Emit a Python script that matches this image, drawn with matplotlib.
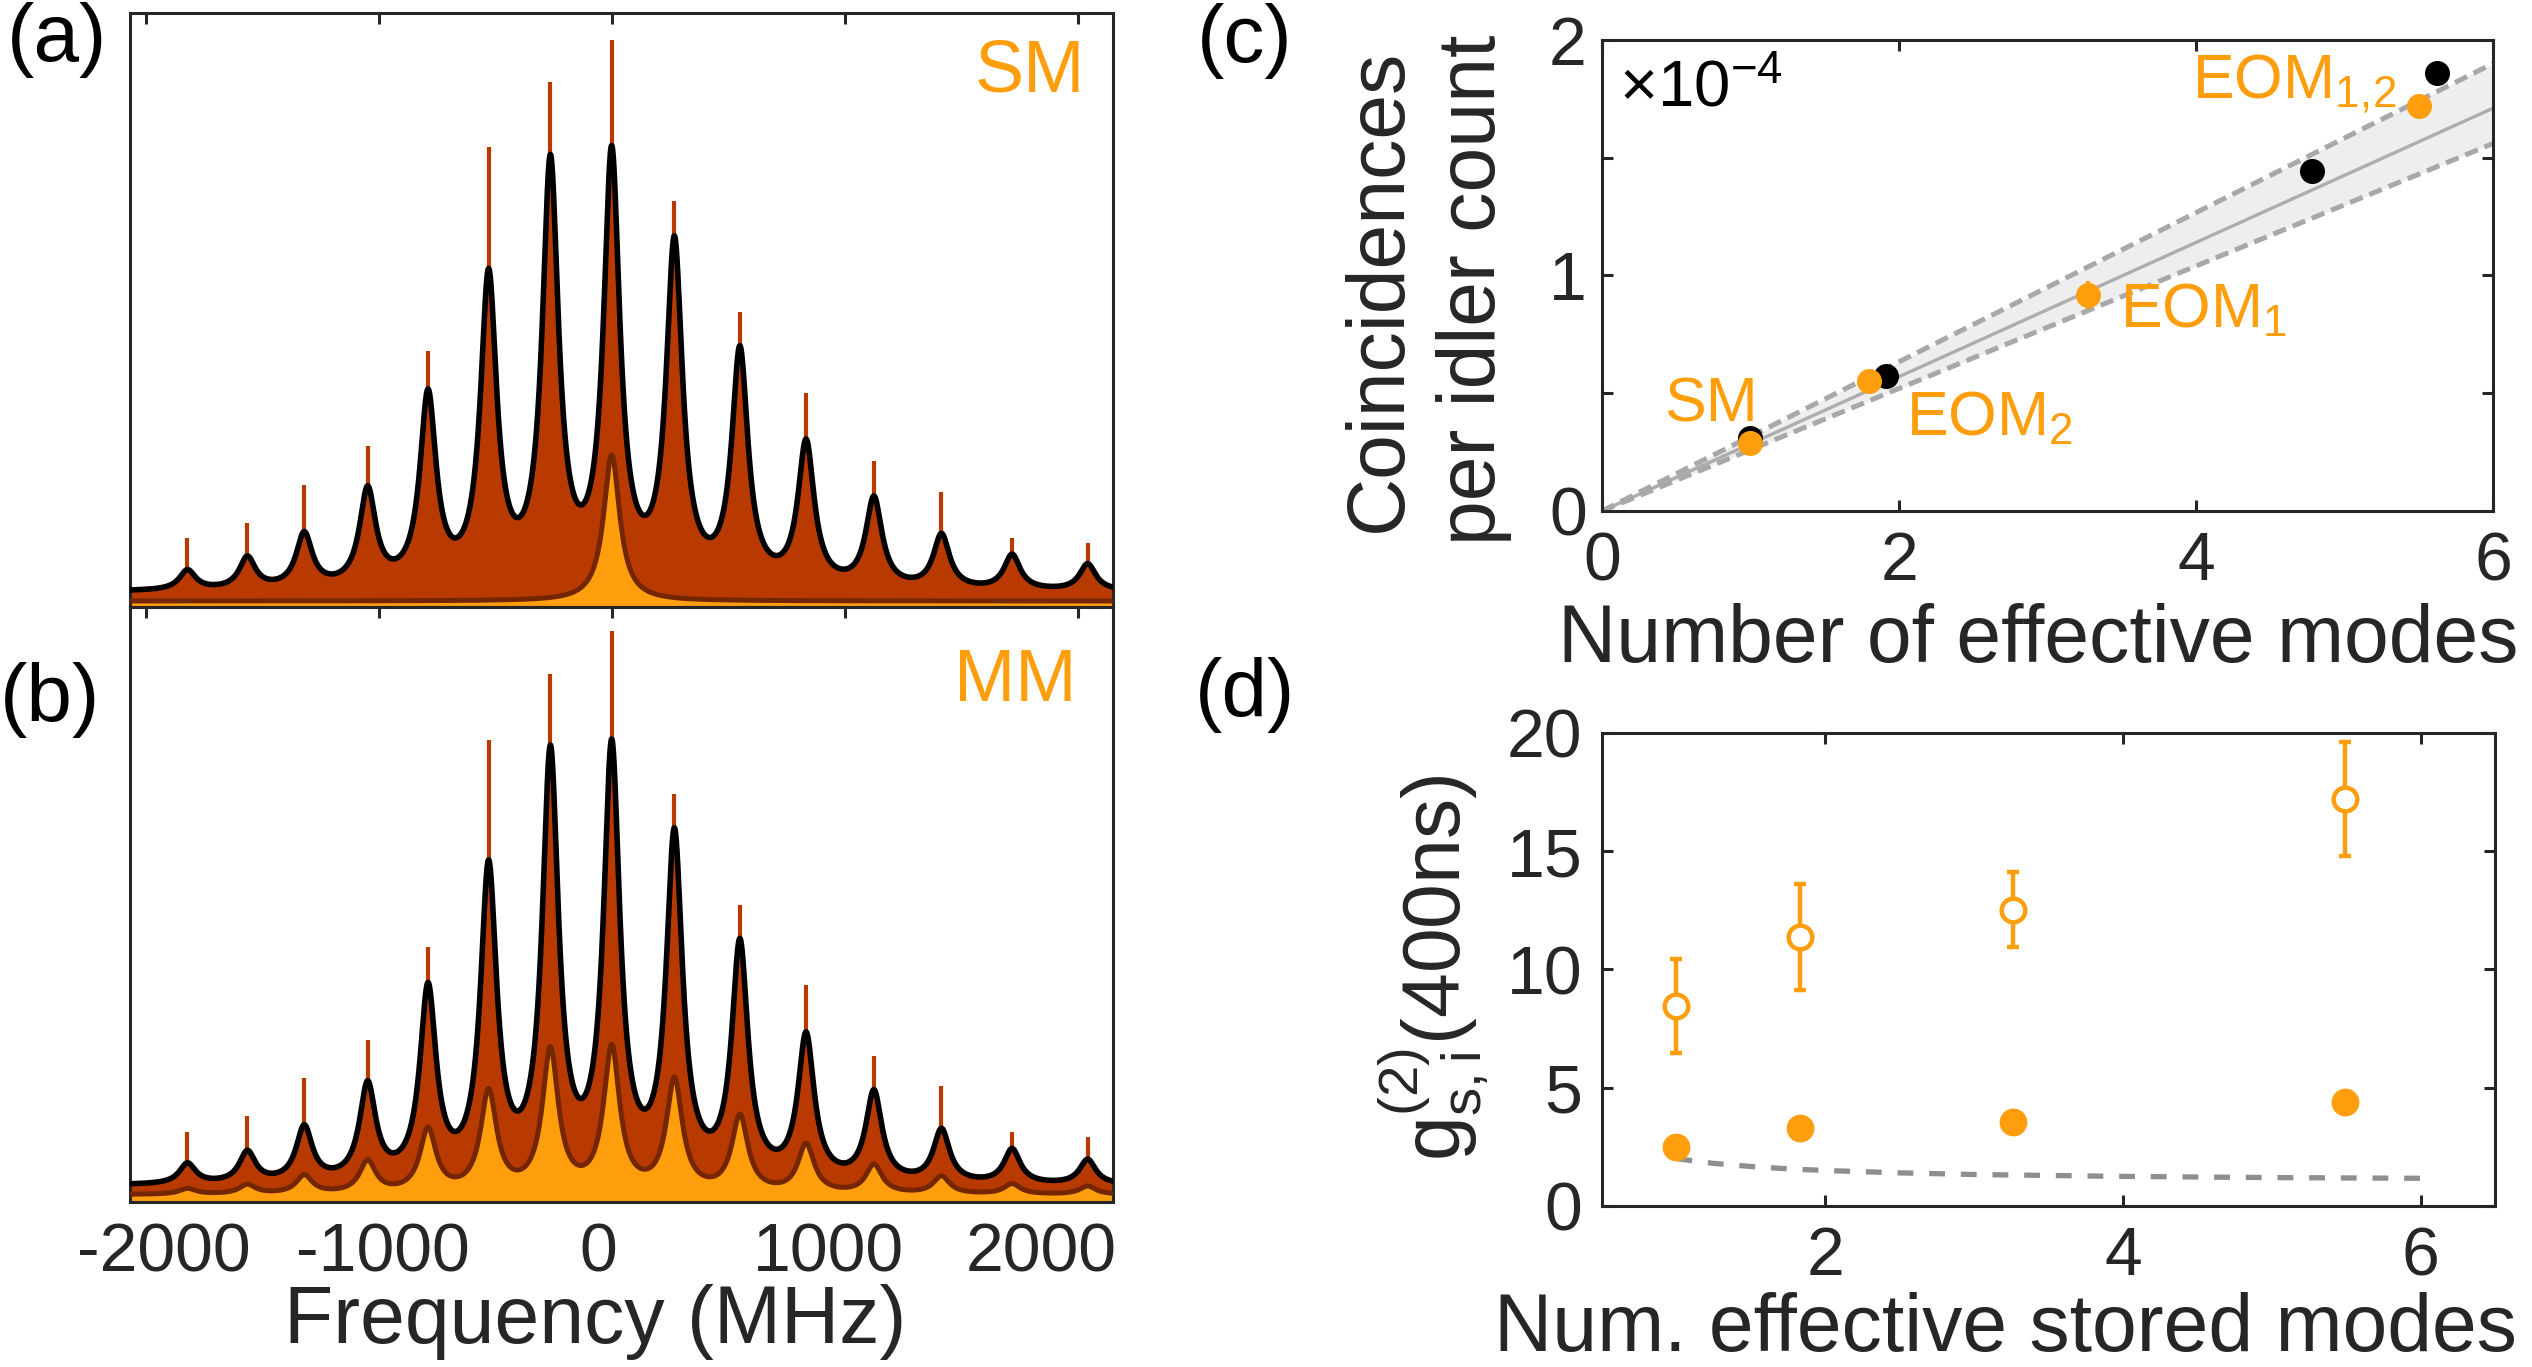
import numpy as np
import matplotlib
matplotlib.use('Agg')
import matplotlib.pyplot as plt

plt.rcParams['font.family'] = ['Liberation Sans', 'DejaVu Sans']
plt.rcParams['mathtext.fontset'] = 'custom'
plt.rcParams['mathtext.rm'] = 'Liberation Sans'
plt.rcParams['mathtext.it'] = 'Liberation Sans'
plt.rcParams['axes.linewidth'] = 2.2
plt.rcParams['axes.edgecolor'] = '#262626'

DARK = '#B83A00'
ORANGE = '#FF9E0D'
BROWN = '#742600'
INK = '#262626'

# ---- (a), (b) spectra: peak positions (MHz) and fit heights (arb., axis = 1) ----
peak_mhz = [-1820, -1563, -1319, -1047, -788, -528, -263, 0, 269, 550, 834, 1125, 1415, 1718, 2042]
fit_a_total = [0.063, 0.086, 0.127, 0.204, 0.367, 0.570, 0.762, 0.777, 0.625, 0.440, 0.283, 0.187, 0.124, 0.089, 0.073]
fit_b_total = [0.066, 0.087, 0.130, 0.204, 0.369, 0.575, 0.768, 0.778, 0.629, 0.443, 0.286, 0.189, 0.124, 0.090, 0.072]
fit_b_mm = [0.023, 0.030, 0.046, 0.071, 0.126, 0.191, 0.261, 0.265, 0.210, 0.148, 0.099, 0.064, 0.044, 0.031, 0.027]
sm_peak_mhz = [0]
fit_a_sm = [0.256]
spike_a = [0.116, 0.142, 0.206, 0.271, 0.431, 0.774, 0.883, 0.954, 0.683, 0.496, 0.360, 0.245, 0.193, 0.116, 0.107]
spike_b = [0.117, 0.145, 0.208, 0.273, 0.429, 0.777, 0.887, 0.959, 0.686, 0.499, 0.364, 0.246, 0.195, 0.117, 0.109]
offset_a_total, offset_a_sm = 0.025, 0.010
offset_b_total, offset_b_mm = 0.027, 0.012
hwhm = 42.0

freq_ticks = [-2000, -1000, 0, 1000, 2000]
freq_label_pos = [-1921, -982, -59, 930, 1841]
freq_labels = ['-2000', '-1000', '0', '1000', '2000']

# ---- (c) coincidences ----
modes_black = [1.0, 1.91, 4.78, 5.62]
coinc_black = [0.31, 0.572, 1.445, 1.86]
modes_orange = [1.0, 1.80, 3.27, 5.50]
coinc_orange = [0.29, 0.551, 0.918, 1.719]
coinc_orange_err = [0.01, 0.02, 0.06, 0.04]
names_orange = ['SM', 'EOM$_{\\mathregular{2}}$', 'EOM$_{\\mathregular{1}}$', 'EOM$_{\\mathregular{1,\\!2}}$']
line_x = [0, 6]
line_mid = [0, 1.71]
line_hi = [0, 1.90]
line_lo = [0, 1.56]

# ---- (d) g2 ----
stored_modes = [1.0, 1.83, 3.26, 5.49]
g2_open = [8.46, 11.37, 12.53, 17.2]
g2_open_err = [2.0, 2.24, 1.6, 2.4]
g2_filled = [2.49, 3.28, 3.54, 4.39]
theory_modes = [1.0, 1.25, 1.5, 1.75, 2.0, 2.5, 3.0, 3.5, 4.0, 5.0, 6.0]
theory_g2 = [2.0, 1.8, 1.67, 1.57, 1.5, 1.4, 1.33, 1.29, 1.25, 1.2, 1.17]


def lorentz_fit(x, centers, heights, offset):
    c = np.asarray(centers, float)
    h = np.asarray(heights, float) - offset
    m = 1.0 / (1.0 + ((c[:, None] - c[None, :]) / hwhm) ** 2)
    amp = np.linalg.solve(m, h)
    return offset + (amp[None, :] / (1.0 + ((x[:, None] - c[None, :]) / hwhm) ** 2)).sum(axis=1)


def spectrum(ax, total, total_off, oc, oh, ooff, spikes, tag, tagx, tagy, show_labels):
    f = np.linspace(-2067, 2150, 5000)
    yt = lorentz_fit(f, peak_mhz, total, total_off)
    yo = lorentz_fit(f, oc, oh, ooff)
    ax.fill_between(f, 0, yt, color=DARK, lw=0, zorder=1)
    ax.vlines(peak_mhz, 0, spikes, color=DARK, lw=3, zorder=1)
    ax.fill_between(f, 0, yo, color=ORANGE, lw=0, zorder=2)
    ax.plot(f, yo, color=BROWN, lw=3.6, zorder=3)
    ax.plot(f, yt, color='black', lw=4.0, zorder=4)
    ax.set_xlim(-2067, 2150)
    ax.set_ylim(0, 1)
    ax.set_yticks([])
    ax.set_xticks(freq_label_pos)
    ax.set_xticks(freq_ticks, minor=True)
    if show_labels:
        ax.set_xticklabels(freq_labels)
    else:
        ax.set_xticklabels([])
    ax.tick_params(axis='x', which='major', length=0, pad=14, labelsize=49, labelcolor=INK)
    ax.tick_params(axis='x', which='minor', direction='in', length=8, width=2.2,
                   top=True, bottom=False, color=INK)
    ax.text(tagx, tagy, tag, transform=ax.transAxes, ha='right', va='top',
            fontsize=53, color=ORANGE)


fig = plt.figure(figsize=(25.32, 13.67), dpi=100)

ax_a = fig.add_axes([0.0513, 0.556, 0.3882, 0.4345])
ax_b = fig.add_axes([0.0513, 0.1207, 0.3882, 0.4353])
ax_c = fig.add_axes([0.6327, 0.6262, 0.3519, 0.3446])
ax_d = fig.add_axes([0.6327, 0.1178, 0.3527, 0.346])

spectrum(ax_a, fit_a_total, offset_a_total, sm_peak_mhz, fit_a_sm, offset_a_sm,
         spike_a, 'SM', 0.9715, 0.958, False)
spectrum(ax_b, fit_b_total, offset_b_total, peak_mhz, fit_b_mm, offset_b_mm,
         spike_b, 'MM', 0.963, 0.932, True)
ax_b.set_xlabel('Frequency (MHz)', fontsize=58, color=INK)
ax_b.xaxis.set_label_coords(0.473, -0.138)

# (c)
ax_c.fill_between(line_x, line_lo, line_hi, color='#EEEEEE', lw=0, zorder=1)
ax_c.plot(line_x, line_mid, color='#ADADAD', lw=2.4, zorder=2)
ax_c.plot(line_x, line_hi, color='#A8A8A8', lw=3.6, dashes=(2.7, 1.45), zorder=2)
ax_c.plot(line_x, line_lo, color='#A8A8A8', lw=3.6, dashes=(2.7, 1.45), zorder=2)
ax_c.plot(modes_black, coinc_black, 'o', color='black', ms=17, zorder=3)
ax_c.errorbar(modes_orange, coinc_orange, yerr=coinc_orange_err, fmt='o', color=ORANGE,
              ms=17, elinewidth=3, capsize=0, zorder=4)
name_pos = [(0.42, 0.38), (2.05, 0.322), (3.49, 0.781), (3.97, 1.75)]
for name, (tx, ty) in zip(names_orange, name_pos):
    ax_c.text(tx, ty, name, fontsize=45, color=ORANGE, ha='left', va='baseline')
ax_c.text(0.019, 0.958, '×10$^{\\mathregular{-4}}$', transform=ax_c.transAxes,
          fontsize=47, color='black', ha='left', va='top')
ax_c.set_xlim(0, 6)
ax_c.set_ylim(0, 2)
ax_c.set_xticks([0, 2, 4, 6])
ax_c.set_yticks([0, 0.5, 1, 1.5, 2])
ax_c.set_yticklabels(['0', '', '1', '', '2'])
ax_c.tick_params(direction='in', length=8, width=2.2, top=True, right=True,
                 labelsize=49, color=INK, labelcolor=INK)
ax_c.tick_params(axis='x', pad=14)
ax_c.tick_params(axis='y', pad=11)
ax_c.set_xlabel('Number of effective modes', fontsize=58, color=INK)
ax_c.xaxis.set_label_coords(0.49, -0.195)
ax_c.set_ylabel('Coincidences\nper idler count', fontsize=58, color=INK, linespacing=1.3)
ax_c.yaxis.set_label_coords(-0.101, 0.469)

# (d)
ax_d.plot(theory_modes, theory_g2, color='#8E8E8E', lw=3.8, dashes=(3, 3), zorder=1)
ax_d.errorbar(stored_modes, g2_open, yerr=g2_open_err, fmt='o', color=ORANGE, mfc='white',
              mec=ORANGE, mew=3.2, ms=17, elinewidth=3.2, capsize=4.5, capthick=3.6, zorder=3)
ax_d.plot(stored_modes, g2_filled, 'o', color=ORANGE, ms=19, zorder=3)
ax_d.set_xlim(0.5, 6.5)
ax_d.set_ylim(0, 20)
ax_d.set_xticks([2, 4, 6])
ax_d.set_yticks([0, 5, 10, 15, 20])
ax_d.tick_params(direction='in', length=8, width=2.2, top=True, right=True,
                 labelsize=49, color=INK, labelcolor=INK)
ax_d.tick_params(axis='x', pad=14)
ax_d.tick_params(axis='y', pad=14)
ax_d.set_xlabel('Num. effective stored modes', fontsize=58, color=INK)
ax_d.xaxis.set_label_coords(0.452, -0.182)
ax_d.set_ylabel('$\\mathregular{g^{(2)}_{s,i}}$(400ns)', fontsize=58, color=INK)
ax_d.yaxis.set_label_coords(-0.125, 0.503)

# panel letters
fig.text(0.0028, 0.9707, '(a)', fontsize=59, va='center', ha='left')
fig.text(0.0, 0.4879, '(b)', fontsize=59, va='center', ha='left')
fig.text(0.4727, 0.970, '(c)', fontsize=59, va='center', ha='left')
fig.text(0.472, 0.4916, '(d)', fontsize=59, va='center', ha='left')

fig.savefig('out.png', dpi=100)
